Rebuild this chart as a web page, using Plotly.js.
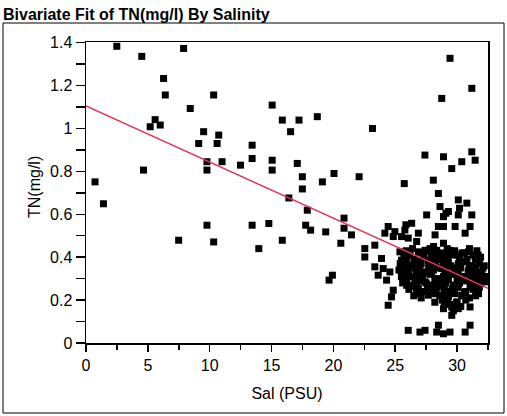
<!DOCTYPE html>
<html>
<head>
<meta charset="utf-8">
<script src="https://cdn.plot.ly/plotly-3.0.1.min.js"></script>
<style>
html,body{margin:0;padding:0;background:#fff;}
#chart{width:507px;height:416px;}
</style>
</head>
<body>
<div id="chart"></div>
<script>
// ---- data ----
var chartTitle = 'Bivariate Fit of TN(mg/l) By Salinity';
var xTitle = 'Sal (PSU)';
var yTitle = 'TN(mg/l)';
var xTickVals = [0, 5, 10, 15, 20, 25, 30];
var yTickVals = [0, 0.2, 0.4, 0.6, 0.8, 1, 1.2, 1.4];

// individually readable points
var salinity = [
  0.73, 1.41, 2.49, 4.51, 4.65, 5.19, 5.59, 6.0, 6.27, 6.41, 7.49, 7.89, 8.43, 9.11, 9.51,
  9.78, 9.78, 9.78, 10.32, 10.32, 10.6, 10.73, 11.0, 12.49, 13.43, 13.43, 13.43, 13.97, 14.78,
  15.05, 15.05, 15.05, 15.87, 15.87, 16.4, 16.54, 17.08, 17.22, 17.49, 17.49, 17.76, 17.89,
  18.16, 18.7, 19.11, 19.38, 19.65, 19.92, 20.05, 20.6, 20.86, 20.86, 21.46, 22.08, 22.54,
  22.54, 23.16, 23.35, 23.35, 23.62, 23.89, 24.03, 24.16, 24.30, 24.43, 24.43, 24.57, 24.70,
  24.84, 24.84, 24.97, 25.38, 25.51, 25.51, 25.65, 25.73, 25.78, 25.86, 25.92, 25.92, 26.05,
  26.05, 26.19, 26.33, 26.73, 26.73, 26.73, 26.87, 26.87, 26.87, 26.87, 27.0, 27.14, 27.4,
  27.41, 27.41, 27.41, 27.54, 27.68, 27.68, 27.81, 27.95, 27.95, 28.08, 28.22, 28.22, 28.35,
  28.35, 28.35, 28.49, 28.49, 28.49, 28.62, 28.76, 28.76, 28.76, 28.9, 28.9, 28.9, 28.9, 28.9,
  28.9, 28.97, 28.97, 29.1, 29.17, 29.3, 29.3, 29.3, 29.43, 29.43, 29.43, 29.57, 29.57, 29.57,
  29.84, 29.84, 29.97, 29.97, 30.1, 30.1, 30.1, 30.1, 30.2, 30.38, 30.38, 30.38, 30.52, 30.65,
  30.65, 30.79, 30.92, 30.92, 31.05, 31.05, 31.05, 31.05, 31.19, 31.19, 31.19, 31.32, 31.46,
  31.46, 31.46, 31.73, 31.73, 31.87, 32.14, 32.41
];
var tn = [
  0.751, 0.649, 1.383, 1.336, 0.806, 1.008, 1.041, 1.016, 1.233, 1.156, 0.479, 1.373, 1.093, 0.930, 0.985,
  0.845, 0.806, 0.549, 1.156, 0.471, 0.930, 0.969, 0.845, 0.829, 0.922, 0.860, 0.549, 0.440, 0.557,
  1.109, 0.852, 0.806, 1.039, 0.479, 0.676, 0.985, 0.837, 1.039, 0.775, 0.718, 0.549, 0.619,
  0.526, 1.055, 0.751, 0.518, 0.293, 0.316, 0.790, 0.465, 0.582, 0.535, 0.504, 0.775, 0.440,
  0.401, 1.0, 0.456, 0.355, 0.316, 0.394, 0.347, 0.512, 0.293, 0.543, 0.176, 0.331, 0.215,
  0.246, 0.496, 0.519, 0.425, 0.496, 0.386, 0.300, 0.743, 0.527, 0.551, 0.339, 0.269, 0.489,
  0.059, 0.308, 0.558, 0.473, 0.285, 0.230, 0.512, 0.425, 0.363, 0.254, 0.051, 0.331, 0.876,
  0.432, 0.285, 0.059, 0.597, 0.386, 0.223, 0.440, 0.331, 0.261, 0.759, 0.504, 0.370, 0.432,
  0.293, 0.051, 0.697, 0.543, 0.083, 0.636, 1.140, 0.347, 0.223, 0.868, 0.589, 0.543, 0.465, 0.409,
  0.043, 0.254, 0.191, 0.605, 0.300, 0.613, 0.378, 0.215, 1.327, 0.432, 0.051, 0.813, 0.168, 0.129,
  0.543, 0.331, 0.261, 0.191, 0.667, 0.597, 0.409, 0.160, 0.628, 0.845, 0.300, 0.223, 0.378, 0.512,
  0.051, 0.652, 0.425, 0.339, 0.543, 0.261, 0.168, 0.083, 1.187, 0.891, 0.597, 0.293, 0.852,
  0.401, 0.355, 0.331, 0.230, 0.277, 0.308, 0.285
];

// points inside the dense black cluster (estimated)
var salinityDense = [
  25.9, 26.4, 27.0, 27.6, 28.1, 28.7, 29.2, 29.8, 30.4, 31.0, 31.6,
  26.0, 27.3, 28.4, 29.5, 30.6, 31.7,
  25.7, 26.2, 26.6, 27.3, 27.9, 28.5, 29.0, 29.6, 30.2, 30.8, 31.3, 31.9,
  25.9, 27.0, 28.0, 29.2, 30.4, 31.5,
  25.4, 26.0, 26.5, 27.1, 27.7, 28.3, 28.9, 29.5, 30.1, 30.7, 31.2, 31.8, 32.2,
  25.6, 26.8, 27.9, 29.0, 30.0, 31.0, 32.1,
  25.3, 25.8, 26.4, 27.0, 27.5, 28.1, 28.6, 29.2, 29.8, 30.3, 30.9, 31.5, 32.0,
  25.6, 26.7, 27.9, 29.0, 30.1, 31.2,
  25.5, 26.1, 26.6, 27.2, 27.8, 28.4, 28.9, 29.5, 30.0, 30.6, 31.1, 31.7, 32.3,
  25.9, 27.0, 28.2, 29.3, 30.4, 31.5,
  25.6, 26.3, 26.9, 27.5, 28.0, 28.6, 29.1, 29.7, 30.2, 30.8, 31.4, 31.9,
  26.4, 27.6, 28.8, 29.9, 31.1,
  26.1, 26.7, 27.3, 27.8, 28.4, 29.0, 29.6, 30.1, 30.7, 31.3, 31.8,
  26.9, 28.3, 29.5, 30.6,
  26.5, 27.1, 28.0, 28.6, 29.2, 29.8, 30.4, 31.0, 31.5,
  28.2, 28.8, 29.4, 30.0, 30.7,
  28.9, 29.7, 30.3
];
var tnDense = [
  0.43, 0.44, 0.42, 0.43, 0.45, 0.42, 0.44, 0.43, 0.42, 0.44, 0.43,
  0.415, 0.42, 0.41, 0.415, 0.42, 0.41,
  0.40, 0.41, 0.39, 0.40, 0.41, 0.39, 0.40, 0.41, 0.40, 0.39, 0.41, 0.40,
  0.385, 0.38, 0.39, 0.385, 0.38, 0.39,
  0.37, 0.36, 0.38, 0.37, 0.36, 0.38, 0.37, 0.36, 0.37, 0.38, 0.36, 0.37, 0.36,
  0.355, 0.35, 0.36, 0.355, 0.35, 0.36, 0.35,
  0.34, 0.33, 0.35, 0.34, 0.33, 0.34, 0.35, 0.33, 0.34, 0.35, 0.33, 0.34, 0.33,
  0.325, 0.32, 0.33, 0.325, 0.32, 0.33,
  0.31, 0.32, 0.30, 0.31, 0.32, 0.30, 0.31, 0.32, 0.30, 0.31, 0.32, 0.30, 0.31,
  0.295, 0.29, 0.30, 0.295, 0.29, 0.30,
  0.28, 0.27, 0.29, 0.28, 0.27, 0.29, 0.28, 0.27, 0.28, 0.29, 0.27, 0.28,
  0.265, 0.26, 0.27, 0.265, 0.26,
  0.25, 0.26, 0.24, 0.25, 0.26, 0.24, 0.25, 0.26, 0.24, 0.25, 0.26,
  0.235, 0.23, 0.24, 0.235,
  0.22, 0.21, 0.23, 0.22, 0.21, 0.23, 0.22, 0.21, 0.22,
  0.19, 0.20, 0.18, 0.19, 0.20,
  0.16, 0.15, 0.17
];

// linear fit
var fitIntercept = 1.105;
var fitSlope = -0.02615;
var fitX = [0, 32.5];
var fitY = fitX.map(function (x) { return fitIntercept + fitSlope * x; });

// ---- drawing ----
var FONT = 'Liberation Sans, Arial, Helvetica, sans-serif';
var allX = salinity.concat(salinityDense);
var allY = tn.concat(tnDense);

var traces = [
  {
    type: 'scatter', mode: 'markers', x: allX, y: allY,
    marker: {symbol: 'square', size: 7, color: '#000000', line: {width: 0}},
    hoverinfo: 'x+y', showlegend: false
  },
  {
    type: 'scatter', mode: 'lines', x: fitX, y: fitY,
    line: {color: '#e8325c', width: 1.5},
    hoverinfo: 'skip', showlegend: false
  }
];

// plot area is 86..488 px horizontally, 42..343 px vertically
var L = 86, R = 488, T = 42, B = 343;
function px(x) { return (x - L) / (R - L); }
function py(y) { return (B - y) / (B - T); }

var layout = {
  width: 507, height: 416,
  margin: {l: L, r: 507 - R, t: T, b: 416 - B, pad: 0},
  paper_bgcolor: '#ffffff', plot_bgcolor: '#ffffff',
  font: {family: FONT, size: 16, color: '#000000'},
  title: {
    text: '<b>' + chartTitle + '</b>',
    font: {family: FONT, size: 16, color: '#000000'},
    xref: 'container', yref: 'container',
    x: 3 / 507, xanchor: 'left', y: 1 - 14 / 416, yanchor: 'middle'
  },
  xaxis: {
    range: [0, 32.5], tickmode: 'array', tickvals: xTickVals,
    ticks: 'outside', ticklen: 7, tickwidth: 1.5, tickcolor: '#000',
    minor: {tick0: 0, dtick: 2.5, ticks: 'outside', ticklen: 5, tickwidth: 1.5, tickcolor: '#000', showgrid: false},
    showline: true, linecolor: '#000', linewidth: 1.5, mirror: true,
    showgrid: false, zeroline: false,
    tickfont: {family: FONT, size: 16, color: '#000'},
    title: {text: xTitle, font: {family: FONT, size: 16, color: '#000'}, standoff: 15}
  },
  yaxis: {
    range: [0, 1.403], tickmode: 'array', tickvals: yTickVals,
    ticks: 'outside', ticklen: 9, tickwidth: 1.5, tickcolor: '#000',
    minor: {tick0: 0, dtick: 0.1, ticks: 'outside', ticklen: 9, tickwidth: 1.5, tickcolor: '#000', showgrid: false},
    showline: true, linecolor: '#000', linewidth: 1.5, mirror: true,
    showgrid: false, zeroline: false,
    tickfont: {family: FONT, size: 16, color: '#000'}
  },
  annotations: [
    {text: yTitle, textangle: -90, xref: 'paper', yref: 'paper',
     x: px(34), y: py(187), xanchor: 'center', yanchor: 'middle', showarrow: false,
     font: {family: FONT, size: 16, color: '#000'}}
  ],
  shapes: [
    {type: 'rect', xref: 'paper', yref: 'paper',
     x0: px(3), x1: px(504), y0: py(413), y1: py(23),
     line: {color: '#000', width: 1}, fillcolor: 'rgba(0,0,0,0)', layer: 'below'}
  ]
};

Plotly.newPlot('chart', traces, layout, {displayModeBar: false, staticPlot: true});
</script>
</body>
</html>
